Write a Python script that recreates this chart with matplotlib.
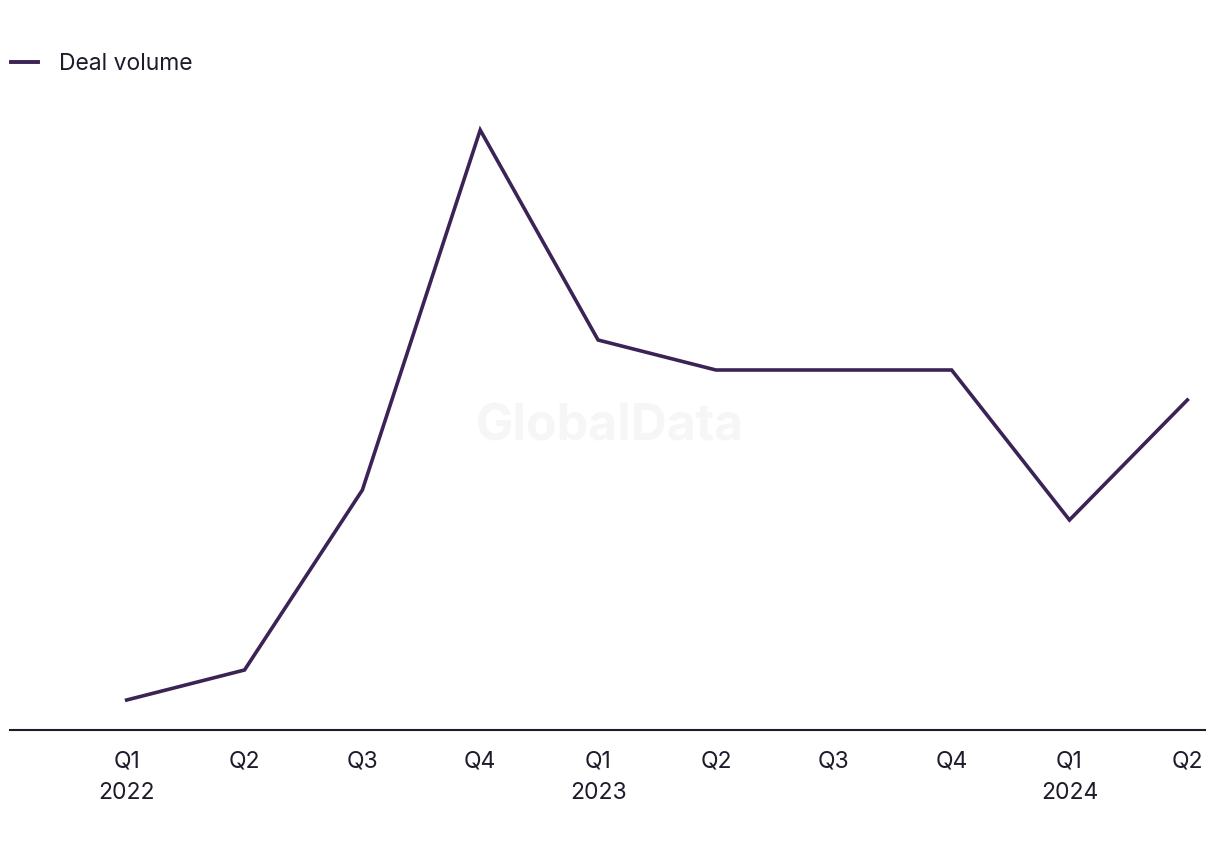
import matplotlib
matplotlib.use("Agg")
import matplotlib.pyplot as plt
from matplotlib.lines import Line2D

plt.rcParams['font.family'] = ['Inter', 'DejaVu Sans']

# 数据
quarters = ['Q1', 'Q2', 'Q3', 'Q4', 'Q1', 'Q2', 'Q3', 'Q4', 'Q1', 'Q2']
years = ['2022', '', '', '', '2023', '', '', '', '2024', '']
deal_volume = [1, 2, 8, 20, 13, 12, 12, 12, 7, 11]

line_color = '#3b2356'
text_color = '#1c1c2b'

fig = plt.figure(figsize=(12.2, 8.5), dpi=100)
ax = fig.add_axes([10 / 1220, 120 / 850, 1195 / 1220, 660 / 850])

x = list(range(len(deal_volume)))
ax.plot(x, deal_volume, color=line_color, linewidth=2.6, solid_joinstyle='miter')

ax.set_xlim(-0.99, 9.15)
ax.set_ylim(0, 22)

# 坐标轴
for s in ['top', 'right', 'left']:
    ax.spines[s].set_visible(False)
ax.spines['bottom'].set_color(text_color)
ax.spines['bottom'].set_linewidth(1.5)
ax.set_yticks([])
ax.set_xticks(x)
labels = [q + ('\n' + y if y else '') for q, y in zip(quarters, years)]
ax.set_xticklabels(labels, fontsize=16.5, color=text_color, linespacing=1.55,
                   verticalalignment='top')
ax.tick_params(axis='x', length=0, pad=15)

# 水印
fig.text(610 / 1220, 1 - 427 / 850, 'GlobalData', fontsize=36, fontweight='bold',
         color='#f6f6f6', ha='center', va='center', zorder=0)

# 图例
handle = Line2D([], [], color=line_color, linewidth=2.8)
fig.legend([handle], ['Deal volume'], loc='upper left',
           bbox_to_anchor=(0.009, 1 - 53 / 850), frameon=False, fontsize=16.5,
           handlelength=1.2, handletextpad=0.9, borderaxespad=0,
           borderpad=0, labelcolor=text_color)

fig.savefig('out.png', dpi=100, facecolor='white')
